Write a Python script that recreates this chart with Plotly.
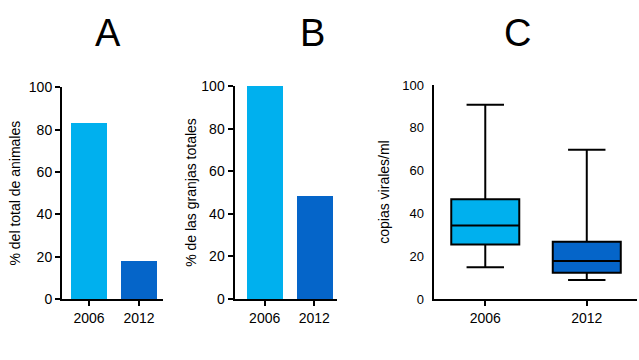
import plotly.graph_objects as go

years = ["2006", "2012"]
pct_animals = [83.0, 18.0]
pct_farms = [100.0, 48.4]
box_q1 = [25.5, 12.3]
box_median = [34.4, 17.8]
box_q3 = [46.6, 26.8]
box_low = [14.8, 8.9]
box_high = [90.8, 69.8]
colors = ["#00B0EE", "#0565C9"]
y_ticks = [0, 20, 40, 60, 80, 100]
y_minor_c = [0, 12.5, 25, 37.5, 50, 62.5, 75, 87.5, 100]

W, H = 639, 360
FONT = "Liberation Sans, Arial, sans-serif"

fig = go.Figure()
fig.add_trace(go.Bar(x=years, y=pct_animals, marker=dict(color=colors, line=dict(width=0)),
                     width=0.72, xaxis="x", yaxis="y", showlegend=False))
fig.add_trace(go.Bar(x=years, y=pct_farms, marker=dict(color=colors, line=dict(width=0)),
                     width=0.72, xaxis="x2", yaxis="y2", showlegend=False))
for i in range(2):
    fig.add_trace(go.Box(x=[years[i]], q1=[box_q1[i]], median=[box_median[i]], q3=[box_q3[i]],
                         lowerfence=[box_low[i]], upperfence=[box_high[i]],
                         fillcolor=colors[i], line=dict(color="black", width=2),
                         width=0.67, whiskerwidth=0.55, boxpoints=False,
                         xaxis="x3", yaxis="y3", showlegend=False))

def px_x(a, b):
    return [a / W, b / W]

def px_y(top, bottom):
    return [1 - bottom / H, 1 - top / H]

axis_common = dict(showline=True, linewidth=2, linecolor="black", ticks="outside",
                   ticklen=5, tickwidth=2, tickcolor="black", showgrid=False, zeroline=False,
                   automargin=False,
                   tickfont=dict(size=14, color="black", family=FONT))

xa = dict(axis_common, type="category", fixedrange=True)
fig.update_layout(
    xaxis=dict(xa, domain=px_x(62, 163), range=[-0.54, 1.48], anchor="y"),
    xaxis2=dict(xa, domain=px_x(234.5, 336.5), range=[-0.61, 1.45], anchor="y2"),
    xaxis3=dict(xa, domain=px_x(433.5, 636.5), range=[-0.51, 1.49], anchor="y3"),
    yaxis=dict(axis_common, domain=px_y(87.3, 299), range=[0, 100], tickvals=y_ticks, anchor="x",
               title=dict(text="% del total de animales", font=dict(size=14, family=FONT, color="black"), standoff=5)),
    yaxis2=dict(axis_common, domain=px_y(86, 299), range=[0, 100], tickvals=y_ticks, anchor="x2",
                title=dict(text="% de las granjas totales", font=dict(size=14, family=FONT, color="black"), standoff=1)),
    yaxis3=dict(axis_common, domain=px_y(85, 299), range=[0, 100], tickvals=y_ticks, anchor="x3",
                tickcolor="rgba(0,0,0,0)",
                tickfont=dict(size=13, color="black", family=FONT),
                title=dict(text="copias virales/ml", font=dict(size=14, family=FONT, color="black"), standoff=9)),
    yaxis4=dict(overlaying="y3", anchor="x3", range=[0, 100], tickvals=y_minor_c, showticklabels=False,
                ticks="outside", ticklen=5, tickwidth=2, tickcolor="black", showgrid=False, zeroline=False,
                showline=False, side="left", automargin=False),
    width=W, height=H, margin=dict(l=0, r=0, t=0, b=0),
    paper_bgcolor="white", plot_bgcolor="white",
    boxmode="overlay", bargap=0,
    font=dict(family=FONT, color="black"),
)

for txt, xc in [("A", 108), ("B", 312), ("C", 517)]:
    fig.add_annotation(text=txt, x=xc / W, y=1 - 33 / H, xref="paper", yref="paper",
                       showarrow=False, font=dict(size=38, family=FONT, color="black"),
                       xanchor="center", yanchor="middle")

fig.write_html("out.html", config={"displayModeBar": False},
               post_script="document.body.style.margin='0';document.body.style.padding='0';"
                           "document.documentElement.style.overflow='hidden';")
